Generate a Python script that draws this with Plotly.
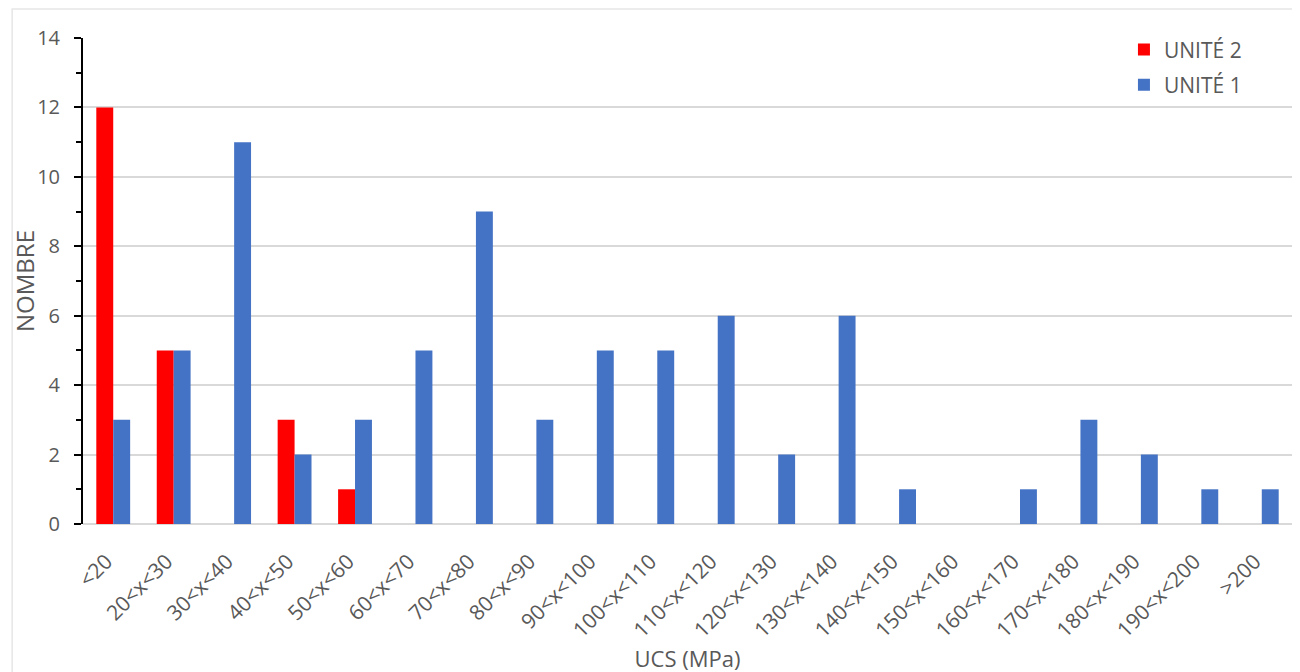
import plotly.graph_objects as go

categories = ["<20", "20<x<30", "30<x<40", "40<x<50", "50<x<60", "60<x<70", "70<x<80",
              "80<x<90", "90<x<100", "100<x<110", "110<x<120", "120<x<130", "130<x<140",
              "140<x<150", "150<x<160", "160<x<170", "170<x<180", "180<x<190", "190<x<200", ">200"]
unite2 = [12, 5, 0, 3, 1, 0, 0, 0, 0, 0, 0, 0, 0, 0, 0, 0, 0, 0, 0, 0]
unite1 = [3, 5, 11, 2, 3, 5, 9, 3, 5, 5, 6, 2, 6, 1, 0, 1, 3, 2, 1, 1]
y_ticks = [0, 2, 4, 6, 8, 10, 12, 14]

font_fam = "Open Sans, Noto Sans, sans-serif"
grey = "#595959"

fig = go.Figure()
fig.add_trace(go.Bar(x=categories, y=unite2, name="UNITÉ 2", legendgroup="u2",
                     marker=dict(color="#FF0000", line=dict(width=0))))
fig.add_trace(go.Bar(x=categories, y=unite1, name="UNITÉ 1", legendgroup="u1",
                     marker=dict(color="#4472C4", line=dict(width=0))))

fig.update_layout(
    width=1300, height=672,
    barmode="group", bargap=0.44, bargroupgap=0,
    plot_bgcolor="white", paper_bgcolor="white",
    margin=dict(l=72, r=16, t=30, b=156),
    font=dict(family=font_fam, color=grey, size=18),
    legend=dict(x=0.861, y=1.018, xanchor="left", yanchor="top", font=dict(size=21, color=grey),
                bgcolor="rgba(0,0,0,0)", itemsizing="constant", tracegroupgap=5,
                traceorder="grouped"),
    showlegend=True,
)
fig.update_xaxes(
    title=dict(text="UCS (MPa)", font=dict(size=22, color=grey), standoff=0),
    tickangle=-45, tickfont=dict(size=21, color=grey),
    showline=False, showgrid=False,
    ticks="", ticklabelstandoff=20, ticklabelshift=-7,
)
fig.update_yaxes(
    title=dict(text="NOMBRE", font=dict(size=24, color=grey), standoff=0),
    range=[0, 14], tickvals=y_ticks, tickfont=dict(size=20, color=grey),
    ticklabelstandoff=10,
    showgrid=True, gridcolor="#D9D9D9", gridwidth=1.5,
    zeroline=True, zerolinecolor="#D9D9D9", zerolinewidth=1.5,
    showline=True, linecolor="black", linewidth=2,
    ticks="outside", ticklen=7, tickcolor="black", tickwidth=2,
    minor=dict(dtick=1, ticks="outside", ticklen=5, tickcolor="black", tickwidth=2, showgrid=False),
)
fig.add_shape(type="rect", xref="paper", yref="paper", x0=-0.0586, x1=1.005, y0=-0.379, y1=1.0597,
              line=dict(color="#E6E6E6", width=1.5), fillcolor="rgba(0,0,0,0)", layer="below")

fig.write_html("out.html")
